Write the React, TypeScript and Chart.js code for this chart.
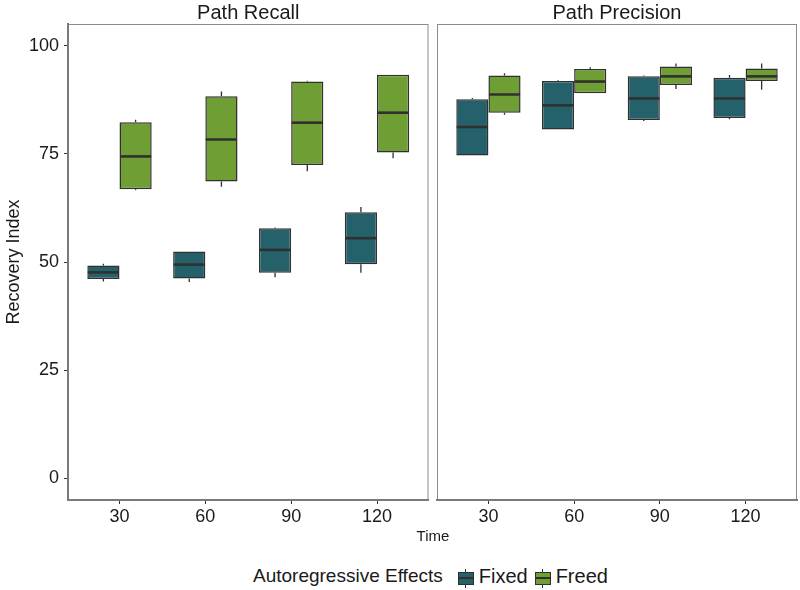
import React, { useEffect, useRef } from "react";
import { Chart, registerables } from "chart.js";

Chart.register(...registerables);

const timeLabels = ["30", "60", "90", "120"];
const timePositions = [1, 2, 3, 4];
const yTickValues = [0, 25, 50, 75, 100];
const groupNames = ["Fixed", "Freed"];
const groupColors = ["#24616B", "#6E9E34"];
const panelTitles = ["Path Recall", "Path Precision"];

// each entry: [lower whisker, Q1, median, Q3, upper whisker]
const recallFixed = [
  [45.5, 46.1, 47.6, 49.2, 49.6],
  [45.4, 46.2, 49.4, 52.4, 52.4],
  [46.5, 47.5, 52.8, 57.8, 58.0],
  [47.5, 49.5, 55.5, 61.5, 62.7],
];
const recallFreed = [
  [66.6, 66.8, 74.4, 82.3, 82.9],
  [67.4, 68.6, 78.3, 88.3, 89.4],
  [71.0, 72.4, 82.2, 91.7, 91.9],
  [74.0, 75.3, 84.5, 93.3, 93.3],
];
const precisionFixed = [
  [74.6, 74.6, 81.2, 87.6, 87.9],
  [80.6, 80.6, 86.2, 91.8, 92.0],
  [82.6, 82.8, 87.8, 92.9, 93.1],
  [83.0, 83.3, 87.8, 92.6, 93.2],
];
const precisionFreed = [
  [84.0, 84.5, 88.7, 93.1, 93.6],
  [89.0, 89.0, 91.7, 94.6, 95.0],
  [90.0, 90.9, 92.9, 95.2, 95.9],
  [89.8, 91.8, 92.9, 94.7, 95.9],
];

const FONT = "'Liberation Sans', Arial, Helvetica, sans-serif";
const TEXT = "#1a1a1a";
const OUTLINE = "#303030";

function makeConfig(title: string, stats: number[][][], showY: boolean, padLeft: number, padRight: number) {
  const boxPlugin = {
    id: "boxWhiskers",
    beforeDraw(chart: any) {
      const { ctx, chartArea } = chart;
      ctx.save();
      ctx.strokeStyle = "#8c8c8c";
      ctx.lineWidth = 1;
      ctx.strokeRect(chartArea.left + 0.5, chartArea.top + 0.5, chartArea.right - chartArea.left - 1, chartArea.bottom - chartArea.top - 1);
      // facet strip label
      ctx.fillStyle = TEXT;
      ctx.font = `20px ${FONT}`;
      ctx.textAlign = "center";
      ctx.textBaseline = "alphabetic";
      ctx.fillText(title, (chartArea.left + chartArea.right) / 2, 19);
      ctx.restore();
    },
    afterDatasetsDraw(chart: any) {
      const { ctx } = chart;
      const yScale = chart.scales.y;
      ctx.save();
      stats.forEach((series, d) => {
        const meta = chart.getDatasetMeta(d);
        meta.data.forEach((bar: any, i: number) => {
          const s = series[i];
          const { x, width } = bar.getProps(["x", "width"], true);
          const pLo = yScale.getPixelForValue(s[0]);
          const pQ1 = yScale.getPixelForValue(s[1]);
          const pMed = yScale.getPixelForValue(s[2]);
          const pQ3 = yScale.getPixelForValue(s[3]);
          const pHi = yScale.getPixelForValue(s[4]);
          ctx.strokeStyle = OUTLINE;
          ctx.lineWidth = 1.3;
          ctx.beginPath();
          ctx.moveTo(x, pHi);
          ctx.lineTo(x, pQ3);
          ctx.moveTo(x, pQ1);
          ctx.lineTo(x, pLo);
          ctx.stroke();
          ctx.lineWidth = 2.6;
          ctx.beginPath();
          ctx.moveTo(x - width / 2 + 0.5, pMed);
          ctx.lineTo(x + width / 2 - 0.5, pMed);
          ctx.stroke();
        });
      });
      ctx.restore();
    },
  };

  return {
    type: "bar",
    data: {
      datasets: stats.map((series, d) => ({
        label: groupNames[d],
        data: series.map((s, i) => ({ x: timePositions[i], y: [s[1], s[3]] })),
        backgroundColor: groupColors[d],
        borderColor: OUTLINE,
        borderWidth: 1.5,
        borderSkipped: false,
        categoryPercentage: 0.75,
        barPercentage: 1,
      })),
    },
    options: {
      responsive: false,
      animation: false,
      devicePixelRatio: 1,
      layout: { padding: { left: padLeft, right: padRight, top: 24, bottom: 0 } },
      plugins: {
        legend: { display: false },
        tooltip: { enabled: false },
        title: { display: false },
      },
      scales: {
        x: {
          type: "linear",
          min: 0.4,
          max: 4.6,
          offset: false,
          afterBuildTicks: (scale: any) => {
            scale.ticks = timePositions.map((v) => ({ value: v }));
          },
          afterFit: (scale: any) => {
            scale.height = 30;
          },
          ticks: {
            color: TEXT,
            font: { family: FONT, size: 18 },
            padding: 2,
            maxRotation: 0,
            autoSkip: false,
            callback: (v: number) => {
              const k = timePositions.indexOf(v);
              return k >= 0 ? timeLabels[k] : "";
            },
          },
          grid: { display: true, offset: false, drawOnChartArea: false, drawTicks: true, tickLength: 4, tickColor: OUTLINE, tickWidth: 1 },
          border: { display: true, color: "#7a7a7a", width: 2 },
        },
        y: {
          type: "linear",
          display: showY,
          min: -5,
          max: 105,
          afterBuildTicks: (scale: any) => {
            scale.ticks = yTickValues.map((v) => ({ value: v }));
          },
          afterFit: (scale: any) => {
            scale.width = showY ? 68 : 0;
          },
          ticks: {
            color: TEXT,
            font: { family: FONT, size: 18 },
            padding: 5,
            callback: (v: number) => String(v),
          },
          title: {
            display: showY,
            text: "Recovery Index",
            color: TEXT,
            font: { family: FONT, size: 18, lineHeight: 1.2 },
            padding: { top: 3, bottom: 0 },
          },
          grid: { display: true, drawOnChartArea: false, drawTicks: true, tickLength: 4, tickColor: OUTLINE, tickWidth: 1 },
          border: { display: true, color: "#7a7a7a", width: 2 },
        },
      },
    },
    plugins: [boxPlugin],
  };
}

function LegendKey({ color }: { color: string }) {
  return (
    <span style={{ position: "relative", display: "inline-block", width: 16, height: 24, flex: "0 0 auto" }}>
      <span style={{ position: "absolute", left: 7.5, top: 5, width: 1, height: 19, background: OUTLINE }} />
      <span style={{ position: "absolute", left: 0, top: 8, width: 14, height: 11, background: color, border: `1px solid ${OUTLINE}` }} />
      <span style={{ position: "absolute", left: 1, top: 12.5, width: 14, height: 2, background: OUTLINE }} />
    </span>
  );
}

export default function App() {
  const leftRef = useRef<HTMLCanvasElement>(null);
  const rightRef = useRef<HTMLCanvasElement>(null);

  useEffect(() => {
    const c1 = new Chart(leftRef.current as HTMLCanvasElement, makeConfig(panelTitles[0], [recallFixed, recallFreed], true, 0, 0.5) as any);
    const c2 = new Chart(rightRef.current as HTMLCanvasElement, makeConfig(panelTitles[1], [precisionFixed, precisionFreed], false, 8, 3) as any);
    return () => {
      c1.destroy();
      c2.destroy();
    };
  }, []);

  return (
    <div style={{ position: "fixed", left: 0, top: 0, width: 800, height: 590, background: "#fff", overflow: "hidden", fontFamily: FONT }}>
      <canvas ref={leftRef} width={429} height={530} style={{ position: "absolute", left: 0, top: 0, width: 429, height: 530 }} />
      <canvas ref={rightRef} width={371} height={530} style={{ position: "absolute", left: 429, top: 0, width: 371, height: 530 }} />
      <div style={{ position: "absolute", left: 383, width: 100, top: 527, height: 18, lineHeight: "18px", textAlign: "center", fontSize: 15, color: TEXT }}>
        Time
      </div>
      <div style={{ position: "absolute", left: 253, top: 564, height: 24, lineHeight: "24px", display: "flex", alignItems: "flex-start", color: TEXT, whiteSpace: "nowrap" }}>
        <span style={{ fontSize: 19, marginRight: 15 }}>Autoregressive Effects</span>
        <LegendKey color={groupColors[0]} />
        <span style={{ fontSize: 20, marginLeft: 5, marginRight: 7 }}>{groupNames[0]}</span>
        <LegendKey color={groupColors[1]} />
        <span style={{ fontSize: 20, marginLeft: 5 }}>{groupNames[1]}</span>
      </div>
    </div>
  );
}
